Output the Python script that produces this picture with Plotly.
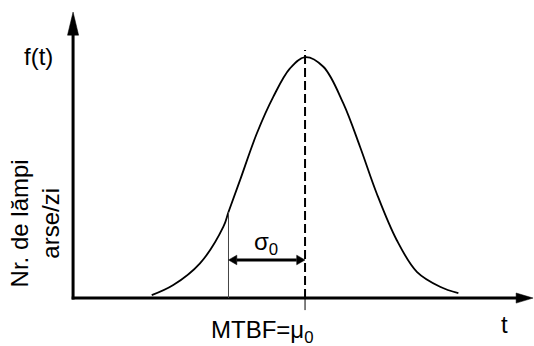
import plotly.graph_objects as go

# Failure-time density (t in arbitrary time units, f normalised to peak)
t_curve = [33.9, 43.2, 54.7, 64.8, 67.0, 72.0, 79.2, 86.3, 93.5, 100.0,
           107.9, 116.5, 123.7, 130.9, 139.5, 148.2, 158.2, 166.1]
f_curve = [0.012, 0.054, 0.144, 0.296, 0.357, 0.490, 0.683, 0.835, 0.953, 1.0,
           0.960, 0.808, 0.628, 0.434, 0.241, 0.109, 0.047, 0.020]

mu0 = 100.0          # MTBF
sigma0 = 33.0        # spread marked under the curve
f_at_sigma = 0.357   # curve height at mu0 - sigma0
sigma_arrow_f = 0.158

x_tip = 198.3        # end of the t axis arrow
y_tip = 1.187        # end of the f(t) axis arrow

FONT = "Arial, Liberation Sans, sans-serif"
BLACK = "#000000"

fig = go.Figure()
fig.add_trace(go.Scatter(x=t_curve, y=f_curve, mode="lines",
                         line=dict(color=BLACK, width=1.8, shape="spline", smoothing=1.0),
                         hoverinfo="skip", showlegend=False))

shapes = []
# axes
shapes.append(dict(type="line", x0=0, y0=-0.006, x1=0, y1=1.095, line=dict(color=BLACK, width=3)))
shapes.append(dict(type="line", x0=-0.6, y0=0, x1=192, y1=0, line=dict(color=BLACK, width=3)))
# axis arrowheads
shapes.append(dict(type="path", path=f"M {-2.4},1.091 L 0,{y_tip} L 2.4,1.091 Z",
                   fillcolor=BLACK, line=dict(color=BLACK, width=0.5)))
shapes.append(dict(type="path", path=f"M 191,-0.021 L {x_tip},0 L 191,0.021 Z",
                   fillcolor=BLACK, line=dict(color=BLACK, width=0.5)))
# mean (dashed) and tick below the axis
shapes.append(dict(type="line", x0=mu0, y0=0, x1=mu0, y1=1.03,
                   line=dict(color=BLACK, width=2, dash="9px,4px")))
shapes.append(dict(type="line", x0=mu0, y0=0, x1=mu0, y1=-0.05, line=dict(color=BLACK, width=1)))
# mu0 - sigma0 marker
shapes.append(dict(type="line", x0=mu0 - sigma0, y0=0, x1=mu0 - sigma0, y1=f_at_sigma,
                   line=dict(color="#444444", width=1)))
# double arrow for sigma0
ah = 3.6
aw = 0.02
shapes.append(dict(type="line", x0=mu0 - sigma0 + ah, y0=sigma_arrow_f, x1=mu0 - ah, y1=sigma_arrow_f,
                   line=dict(color=BLACK, width=3)))
shapes.append(dict(type="path",
                   path=f"M {mu0 - sigma0},{sigma_arrow_f} L {mu0 - sigma0 + ah},{sigma_arrow_f + aw} "
                        f"L {mu0 - sigma0 + ah},{sigma_arrow_f - aw} Z",
                   fillcolor=BLACK, line=dict(color=BLACK, width=0.5)))
shapes.append(dict(type="path",
                   path=f"M {mu0},{sigma_arrow_f} L {mu0 - ah},{sigma_arrow_f + aw} "
                        f"L {mu0 - ah},{sigma_arrow_f - aw} Z",
                   fillcolor=BLACK, line=dict(color=BLACK, width=0.5)))

annotations = [
    dict(x=-15.1, y=1.004, text="f(t)", font=dict(size=24)),
    dict(x=185.8, y=-0.108, text="t", font=dict(size=24)),
    dict(x=81.5, y=-0.14, text="MTBF=μ<sub>0</sub>", font=dict(size=24)),
    dict(x=83, y=0.225, text="σ<sub>0</sub>", font=dict(size=24)),
    dict(x=-16.4, y=0.31, text="Nr. de lămpi<br>arse/zi", textangle=-90, font=dict(size=24)),
]
for a in annotations:
    a.update(xref="x", yref="y", showarrow=False)
    a["font"].update(family=FONT, color=BLACK)

fig.update_layout(
    width=534, height=346,
    margin=dict(l=0, r=0, t=0, b=0),
    paper_bgcolor="white", plot_bgcolor="white",
    shapes=shapes, annotations=annotations,
    xaxis=dict(range=[-31.5, 198.7], visible=False, fixedrange=True),
    yaxis=dict(range=[-0.199, 1.237], visible=False, fixedrange=True),
    showlegend=False,
)

fig.write_html("out.html", config={"displayModeBar": False})
